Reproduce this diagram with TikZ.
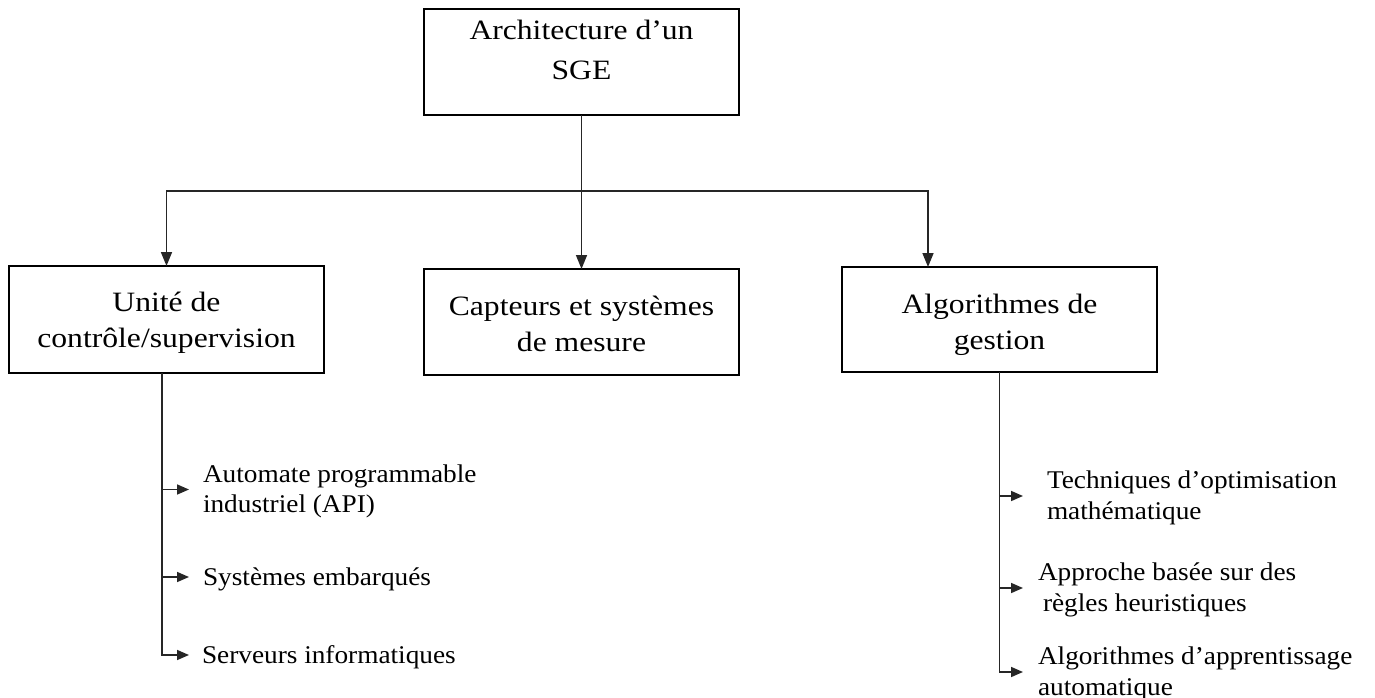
\documentclass[tikz,border=0pt]{standalone}
\usepackage{fontspec}
\setmainfont{Liberation Serif}
\newfontfamily\boxfont[FakeStretch=1.13]{Liberation Serif}
\newfontfamily\itemfont[FakeStretch=1.07]{Liberation Serif}
\usetikzlibrary{arrows.meta}
\begin{document}
\begin{tikzpicture}[x=1pt,y=-1pt,
  frame/.style={draw=black, line width=1.5pt, inner sep=0pt, outer sep=0pt,
    minimum width=315pt, align=center,
    font=\boxfont\fontsize{28}{36}\selectfont},
  item/.style={anchor=base west, inner ysep=0pt, outer sep=0pt, align=left,
    text height=20pt, text depth=4pt,
    font=\itemfont\fontsize{25.5}{30.5}\selectfont},
  twoline/.style={text height=50pt, text depth=4pt},
  link/.style={line width=1.6pt, draw=black!85},
  arr/.style={link, -{Triangle[length=14pt,width=11pt]}},
  harr/.style={link, -{Triangle[length=12pt,width=10pt]}}
]
\useasboundingbox (0,0) rectangle (1375,698);

% main blocks (text height/depth place the last baseline inside each frame)
\node[frame, minimum height=106pt, text height=60pt, text depth=24pt,
      font=\boxfont\fontsize{28}{40}\selectfont] (sge) at (581.5,62) {Architecture d’un\\SGE};
\node[frame, minimum height=107pt, text height=56pt, text depth=1pt] (ctrl) at (166.5,319.5) {Unité de\\contrôle/supervision};
\node[frame, minimum height=106pt, text height=60pt, text depth=2pt] (capt) at (581.5,322) {Capteurs et systèmes\\de mesure};
\node[frame, minimum height=105pt, text height=60pt, text depth=1pt] (algo) at (999.5,319.5) {Algorithmes de\\gestion};

% distribution from the top block
\coordinate (hub) at (581.5,191);
\coordinate (algoin) at ([xshift=86pt]algo.north west);
\draw[link] (sge.south) -- (hub);
\draw[arr] (hub) -| (ctrl.north);
\draw[arr] (hub) -- (capt.north);
\draw[arr] (hub) -| (algoin);

% control / supervision branch
\coordinate (lt) at ([xshift=-4.5pt]ctrl.south);
\node[item, twoline, inner xsep=14pt] (api) at (189,512.5) {Automate programmable\\industriel (API)};
\node[item, inner xsep=14pt] (emb) at (189,585) {Systèmes embarqués};
\node[item, inner xsep=13pt] (srv) at (189,663) {Serveurs informatiques};
\draw[harr] (api.west -| lt) -- (api.west);
\draw[harr] (emb.west -| lt) -- (emb.west);
\draw[harr] (lt) |- (srv.west);

% management algorithms branch
\coordinate (rt) at (algo.south);
\node[item, twoline, inner xsep=24pt] (opt) at (1023,519) {Techniques d’optimisation\\mathématique};
\node[item, twoline, inner xsep=15pt] (heu) at (1023,611) {Approche basée sur des\\\hspace*{5pt}règles heuristiques};
\node[item, twoline, inner xsep=15pt] (ml) at (1023,695) {Algorithmes d’apprentissage\\automatique};
\draw[harr] (opt.west -| rt) -- (opt.west);
\draw[harr] (heu.west -| rt) -- (heu.west);
\draw[harr] (rt) |- (ml.west);
\end{tikzpicture}
\end{document}
